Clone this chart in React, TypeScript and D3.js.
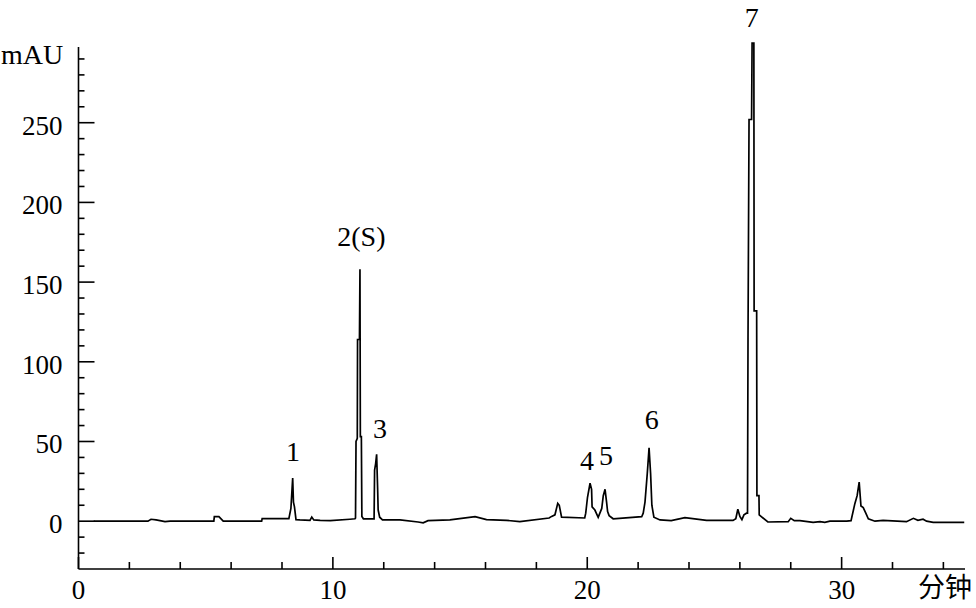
import React from "react";
import * as d3 from "d3";

// Chromatogram trace: retention time (min) and absorbance (mAU)
const times: number[] = [
  0.6, 2.73, 2.85, 3.05, 3.4, 3.6, 4.38, 5.32, 5.34, 5.52, 5.69, 7.2, 7.22,
  8.27, 8.35, 8.42, 8.45, 8.49, 8.55, 8.7, 9.1, 9.17, 9.25, 9.5, 9.9, 10.67, 10.87,
  10.89, 10.91, 10.96, 10.97, 11.045, 11.065, 11.08, 11.12, 11.14, 11.2,
  11.62, 11.64, 11.68, 11.72, 11.76, 11.78, 11.84, 11.95,
  12.64, 13.35, 13.55, 13.74, 14.6, 15.59, 16.04, 16.83, 17.35, 18.5,
  18.6, 18.73, 18.84, 18.9, 18.99, 19.9,
  19.94, 20.01, 20.11, 20.17, 20.19, 20.3, 20.43,
  20.57, 20.63, 20.7, 20.76, 20.8, 20.86, 21.02, 22.14,
  22.2, 22.27, 22.36, 22.43, 22.49, 22.54, 22.62, 22.86, 23.3, 23.84, 24.69, 25.2,
  25.73, 25.84, 25.92, 26.0, 26.08, 26.16, 26.26,
  26.3, 26.32, 26.36, 26.46, 26.48, 26.55, 26.56, 26.66, 26.67, 26.75, 26.76, 27.1,
  27.9, 28.0, 28.14, 28.36, 28.88, 29.15, 29.34, 29.54, 30.2, 30.37,
  30.52, 30.61, 30.69, 30.76, 30.85, 30.95, 31.05, 31.31, 31.63, 32.55,
  32.82, 33.0, 33.2, 33.34, 33.6, 34.82,
];
const absorbance: number[] = [
  0, 0, 1.2, 0.8, -0.3, 0, 0, 0, 2.8, 2.8, 0, 0, 1.6,
  1.6, 8, 27, 12, 9, 1, 0.8, 0.5, 2.6, 0.8, 0.5, 0.3, 1.2, 1.5,
  2, 50, 52, 114, 114, 158, 53, 53, 3, 1.5,
  1.5, 32, 36, 42, 20, 7, 2.5, 0.8,
  0.8, -0.5, -1, 0.3, 0.8, 2.8, 1, 0.5, -0.3, 2,
  3, 4, 11.2, 10, 2.5, 2,
  5, 15, 23.8, 20, 9, 7, 2.4,
  8, 16, 20, 12, 6, 3.5, 1.5, 2.8,
  5, 12, 30, 46, 30, 10, 2.5, 0.8, 0.3, 2.2, 0.5, 0.5,
  0.5, 1.5, 7.5, 3, 1, 4, 5,
  5, 115, 252, 252, 300, 300, 132, 132, 16, 16, 4, -0.5,
  -0.3, 1.8, 0.3, 0.3, -0.7, -0.3, -0.7, 0, 0, 0.3,
  11, 16, 24.5, 9.5, 8.5, 5, 1.5, 0, 0.5, -0.3,
  1.8, 0.5, 1.2, 0, -0.7, -0.7,
];

// Peak annotations
const peakLabels: string[] = ["1", "2(S)", "3", "4", "5", "6", "7"];
const peakLabelTimes: number[] = [8.43, 11.12, 11.85, 19.99, 20.74, 22.54, 26.47];
const peakLabelValues: number[] = [37.5, 172.4, 52.5, 32.4, 35, 57.6, 310];

// Axis ticks
const yMajorTicks: number[] = [0, 50, 100, 150, 200, 250];
const yMinorTicks: number[] = [-20, -10, 10, 20, 30, 40, 60, 70, 80, 90, 110, 120, 130, 140, 160, 170, 180, 190, 210, 220, 230, 240, 260, 270, 280, 290];
const xMajorTicks: number[] = [0, 10, 20, 30];
const xMinorTicks: number[] = [2, 4, 6, 8, 12, 14, 16, 18, 22, 24, 26, 28, 32, 34];

const yUnit = "mAU";
const xUnit = "分钟";

export default function App() {
  const W = 976;
  const H = 608;
  const x = d3.scaleLinear().domain([0, 34.85]).range([78.5, 965]);
  const y = d3.scaleLinear().domain([-30, 297.5]).range([569, 47]);

  const pts: [number, number][] = times.map((t, i) => [t, absorbance[i]]);
  const line = d3
    .line<[number, number]>()
    .x((d) => x(d[0]))
    .y((d) => y(d[1]));

  const serif = "'Liberation Serif', 'Times New Roman', serif";
  const fs = 27;
  const x0 = x.range()[0];
  const yb = y.range()[0];

  return (
    <svg
      width={W}
      height={H}
      style={{ position: "absolute", left: 0, top: 0, background: "#fff" }}
    >
      <rect x={0} y={0} width={W} height={H} fill="#fff" />
      {/* axes */}
      <line x1={x0} x2={x0} y1={y.range()[1]} y2={yb} stroke="#000" strokeWidth={1.6} />
      <line x1={x0} x2={x.range()[1]} y1={yb} y2={yb} stroke="#000" strokeWidth={1.6} />
      {yMajorTicks.map((v) => (
        <g key={"ym" + v}>
          <line x1={x0} x2={x0 + 16} y1={y(v)} y2={y(v)} stroke="#000" strokeWidth={1.6} />
          <text x={x0 - 16} y={y(v) + 12} textAnchor="end" fontFamily={serif} fontSize={fs} fill="#000">
            {v}
          </text>
        </g>
      ))}
      {yMinorTicks.map((v) => (
        <line key={"yn" + v} x1={x0} x2={x0 + 6} y1={y(v)} y2={y(v)} stroke="#000" strokeWidth={1.6} />
      ))}
      {xMajorTicks.map((v) => (
        <g key={"xm" + v}>
          <line x1={x(v)} x2={x(v)} y1={yb} y2={yb - 12} stroke="#000" strokeWidth={1.6} />
          <text x={x(v)} y={599} textAnchor="middle" fontFamily={serif} fontSize={fs} fill="#000">
            {v}
          </text>
        </g>
      ))}
      {xMinorTicks.map((v) => (
        <line key={"xn" + v} x1={x(v)} x2={x(v)} y1={yb} y2={yb - 7} stroke="#000" strokeWidth={1.6} />
      ))}
      <text x={1} y={64} fontFamily={serif} fontSize={28} fill="#000">
        {yUnit}
      </text>
      <text x={918} y={597} fontFamily="'Noto Sans CJK SC', sans-serif" fontSize={27} fill="#000">
        {xUnit}
      </text>
      {/* trace */}
      <path d={line(pts) || ""} fill="none" stroke="#000" strokeWidth={1.7} strokeLinejoin="miter" />
      {/* peak labels */}
      {peakLabels.map((l, i) => (
        <text
          key={"pl" + i}
          x={x(peakLabelTimes[i])}
          y={y(peakLabelValues[i])}
          textAnchor="middle"
          fontFamily={serif}
          fontSize={28}
          fill="#000"
        >
          {l}
        </text>
      ))}
    </svg>
  );
}
